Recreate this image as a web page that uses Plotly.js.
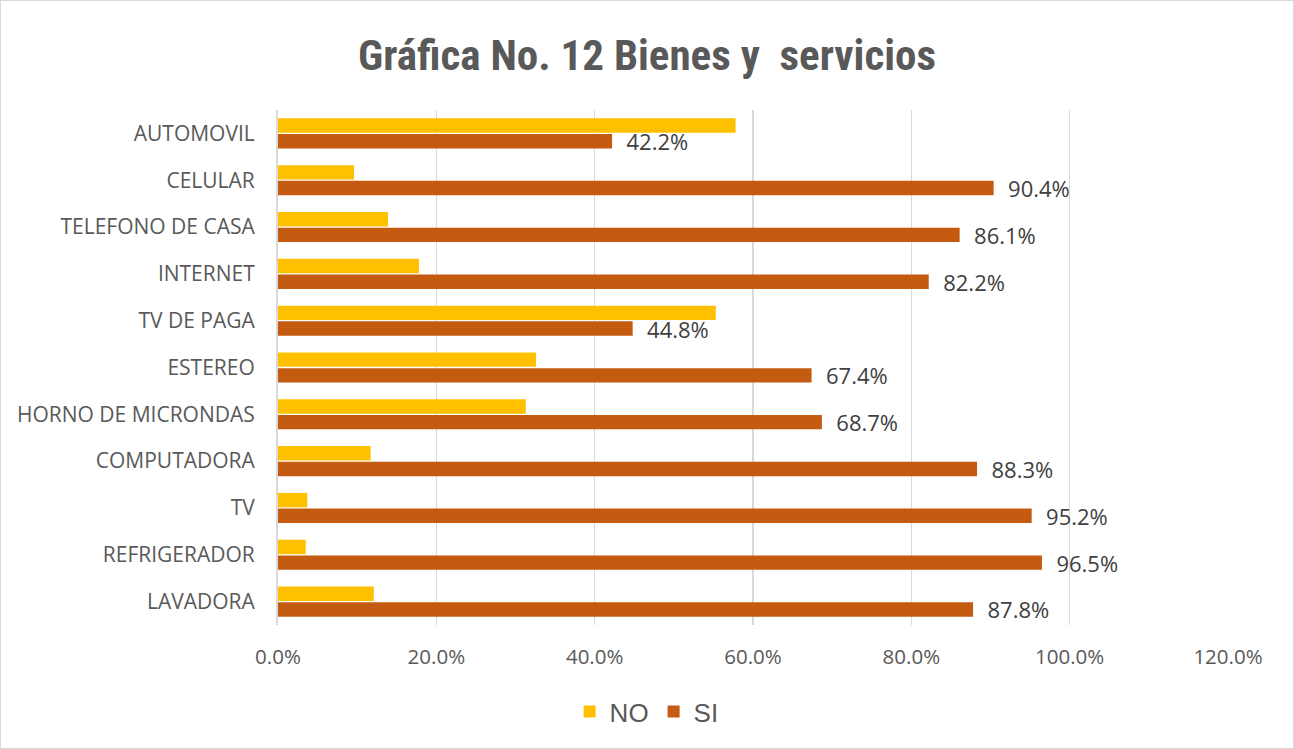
<!DOCTYPE html>
<html>
<head>
<meta charset="utf-8">
<script src="https://cdn.plot.ly/plotly-3.0.1.min.js"></script>
<style>
html,body{margin:0;padding:0;background:#fff;}
#chart{width:1294px;height:749px;box-sizing:border-box;border:1px solid #D9D9D9;}
</style>
</head>
<body>
<div id="chart"></div>
<script>
const categories = ["AUTOMOVIL","CELULAR","TELEFONO DE CASA","INTERNET","TV DE PAGA","ESTEREO","HORNO DE MICRONDAS","COMPUTADORA","TV","REFRIGERADOR","LAVADORA"];
const noValues = [57.8, 9.6, 13.9, 17.8, 55.3, 32.6, 31.3, 11.7, 3.7, 3.5, 12.1];
const siValues = [42.2, 90.4, 86.1, 82.2, 44.8, 67.4, 68.7, 88.3, 95.2, 96.5, 87.8];
const xTicks = [0, 20, 40, 60, 80, 100, 120];

const labelFont = "Open Sans, Noto Sans, sans-serif";

const traces = [
  {
    type: "bar", orientation: "h", name: "NO",
    y: categories, x: noValues,
    marker: {color: "#FFC000"},
    hoverinfo: "x+y"
  },
  {
    type: "bar", orientation: "h", name: "SI",
    y: categories, x: siValues,
    marker: {color: "#C55A11"},
    text: siValues.map(v => "\u00a0\u00a0" + v.toFixed(1) + "%"),
    textposition: "outside",
    constraintext: "none",
    textfont: {family: labelFont, size: 22, color: "#404040"},
    cliponaxis: false,
    hoverinfo: "x+y"
  }
];

const layout = {
  width: 1292, height: 747,
  margin: {l: 277, r: 65, t: 109, b: 123},
  paper_bgcolor: "#fff", plot_bgcolor: "#fff",
  title: {
    text: "<b>Gráfica No. 12 Bienes y  servicios</b>",
    x: 0.5, xanchor: "center", y: 0.928, yanchor: "middle",
    font: {family: "Roboto Condensed, Liberation Sans Narrow, Roboto, sans-serif", size: 43, color: "#595959"}
  },
  barmode: "group",
  bargap: 0.33,
  bargroupgap: 0.08,
  xaxis: {
    range: [0, 120],
    tickvals: xTicks,
    ticktext: xTicks.map(v => v.toFixed(1) + "%"),
    showgrid: true, gridcolor: "#D9D9D9", gridwidth: 1.5,
    zeroline: false, showline: false, ticks: "",
    tickfont: {family: labelFont, size: 20.5, color: "#595959"},
    ticklabelstandoff: 17
  },
  yaxis: {
    type: "category",
    autorange: "reversed",
    showline: true, linecolor: "#D9D9D9", linewidth: 2,
    showgrid: false, ticks: "",
    tickfont: {family: labelFont, size: 21, color: "#595959"},
    ticklabelstandoff: 17
  },
  showlegend: true,
  legend: {
    orientation: "h", x: 0.388, xanchor: "center", y: -0.168, yanchor: "middle",
    font: {family: "Liberation Sans, Arial, sans-serif", size: 26, color: "#595959"},
    itemwidth: 30, traceorder: "normal"
  }
};

Plotly.newPlot("chart", traces, layout, {displayModeBar: false, staticPlot: true});
</script>
</body>
</html>
